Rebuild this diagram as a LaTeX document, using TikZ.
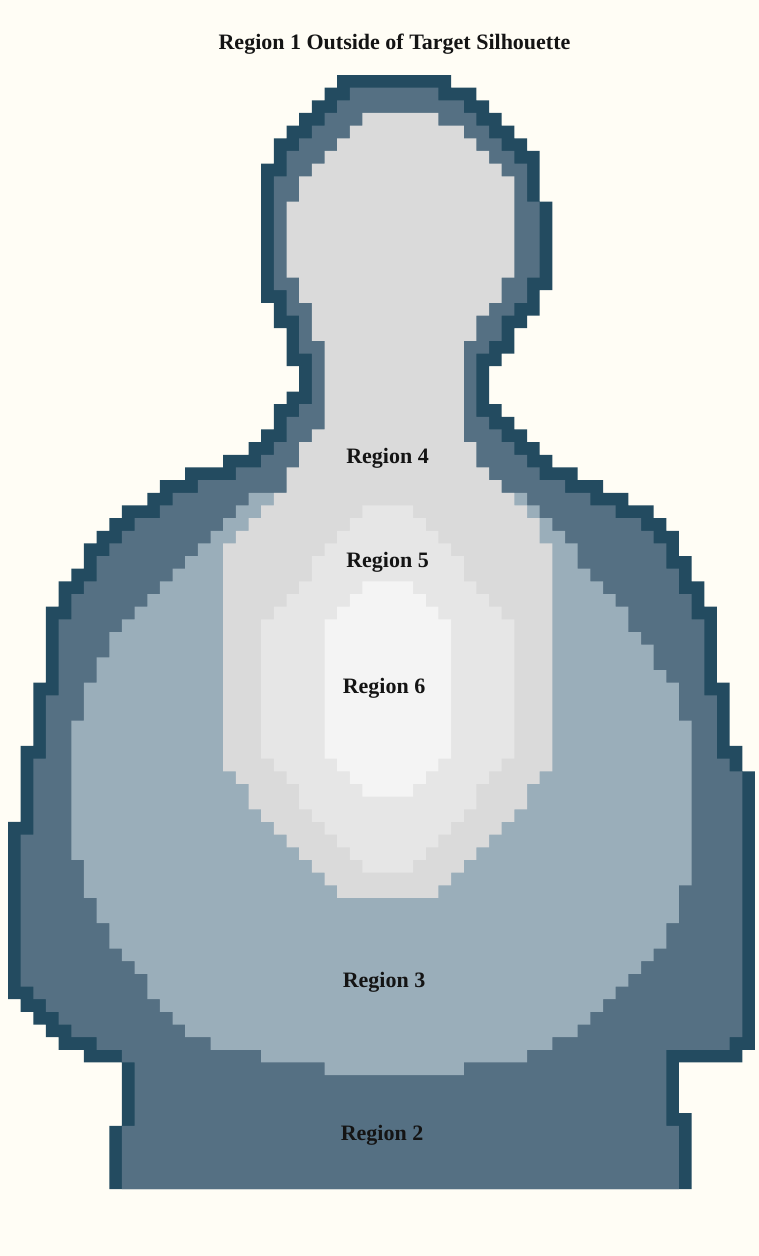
\documentclass[tikz,border=0pt]{standalone}
\usepackage{fontspec}
\setmainfont{Liberation Serif}
\definecolor{bgc}{HTML}{FFFDF5}
\definecolor{darkc}{HTML}{234B60}
\definecolor{medc}{HTML}{557083}
\definecolor{lbc}{HTML}{9AAEBA}
\definecolor{gfour}{HTML}{DADADA}
\definecolor{gfive}{HTML}{E6E6E6}
\definecolor{gsix}{HTML}{F4F4F4}
\newcommand\silayer[2]{\fill[#1] \foreach \ya/\yb/\xl/\xr in {#2} {({8+12.66*\xl},{75+12.66*\ya}) rectangle ({8+12.66*\xr},{75+12.66*(\yb+1)})};}
\begin{document}
\begin{tikzpicture}[x=1pt,y=-1pt,
  lbl/.style={font=\fontsize{22}{26}\selectfont\bfseries, text=black!92, inner sep=0pt, anchor=base}]
\fill[bgc] (0,0) rectangle (759,1256);
\useasboundingbox (0,0) rectangle (759,1256);
% outline (dark)
\silayer{darkc}{0/0/26/35,1/1/25/37,2/2/24/38,3/3/23/39,4/4/22/40,5/5/21/41,6/6/21/42,7/9/20/42,10/16/20/43,17/17/20/42,18/18/21/42,19/19/21/41,20/21/22/40,22/22/22/39,23/24/23/38,25/25/22/38,26/26/21/39,27/27/21/40,28/28/20/41,29/29/19/42,30/30/17/43,31/31/14/45,32/32/12/47,33/33/11/49,34/34/9/51,35/35/8/52,36/36/7/53,37/37/6/53,38/38/6/54,39/39/5/54,40/41/4/55,42/47/3/56,48/52/2/57,53/54/1/58,55/58/1/59,59/72/0/59,73/73/1/59,74/74/2/59,75/75/3/59,76/76/4/59,77/77/6/58,78/81/9/53,82/82/9/54,83/87/8/54}
% region 2 (medium)
\silayer{medc}{1/1/27/34,2/2/26/36,3/3/25/37,4/4/24/38,5/5/23/39,6/6/22/40,7/7/22/41,8/9/21/41,10/15/21/42,16/16/21/41,17/17/22/41,18/18/22/40,19/20/23/39,21/21/23/38,22/25/24/37,26/26/23/37,27/27/22/38,28/28/22/39,29/29/21/40,30/30/20/41,31/31/18/42,32/32/15/44,33/33/13/46,34/34/12/48,35/35/10/50,36/36/9/51,37/37/8/52,38/38/7/52,39/39/7/53,40/40/6/53,41/42/5/54,43/48/4/55,49/53/3/56,54/54/2/57,55/59/2/58,60/71/1/58,72/72/2/58,73/73/3/58,74/74/4/58,75/75/5/58,76/76/7/57,77/77/9/52,78/82/10/52,83/87/9/53}
% region 3 (light blue)
\silayer{lbc}{33/33/19/41,34/34/18/42,35/35/17/43,36/36/16/44,37/37/15/45,38/38/14/45,39/39/13/46,40/40/12/47,41/41/11/48,42/42/10/49,43/43/9/49,44/44/8/50,45/45/8/51,46/46/7/51,47/47/7/52,48/50/6/53,51/61/5/54,62/63/6/54,64/64/6/53,65/66/7/53,67/68/8/52,69/69/9/51,70/70/10/50,71/71/11/49,72/72/11/48,73/73/12/47,74/74/13/46,75/75/14/45,76/76/16/43,77/77/20/41,78/78/25/36}
% region 4
\silayer{gfour}{3/3/28/34,4/4/27/36,5/5/26/37,6/6/25/38,7/7/24/39,8/9/23/40,10/15/22/40,16/17/23/39,18/18/24/38,19/20/24/37,21/27/25/36,28/28/24/36,29/30/23/37,31/31/22/38,32/32/22/39,33/33/21/40,34/34/20/41,35/35/19/42,36/36/18/42,37/54/17/43,55/55/18/42,56/57/19/41,58/58/20/40,59/59/21/39,60/60/22/38,61/61/23/37,62/62/24/36,63/63/25/35,64/64/26/34}
% region 5
\silayer{gfive}{34/34/28/32,35/35/27/33,36/36/26/34,37/37/25/35,38/39/24/36,40/40/23/37,41/41/22/38,42/42/21/39,43/53/20/40,54/54/21/39,55/55/22/38,56/57/23/37,58/58/24/36,59/59/25/35,60/60/26/34,61/61/27/33,62/62/28/32}
% region 6
\silayer{gsix}{40/40/28/32,41/41/27/33,42/42/26/34,43/53/25/35,54/54/26/34,55/55/27/33,56/56/28/32}
% labels
\node[lbl] (t1) at (394.5,49.5) {Region 1 Outside of Target Silhouette};
\node[lbl] (t4) at (387.5,463) {Region 4};
\node[lbl] (t5) at (387.5,567) {Region 5};
\node[lbl] (t6) at (384,693) {Region 6};
\node[lbl] (t3) at (384,987) {Region 3};
\node[lbl] (t2) at (382,1140) {Region 2};
\end{tikzpicture}
\end{document}
